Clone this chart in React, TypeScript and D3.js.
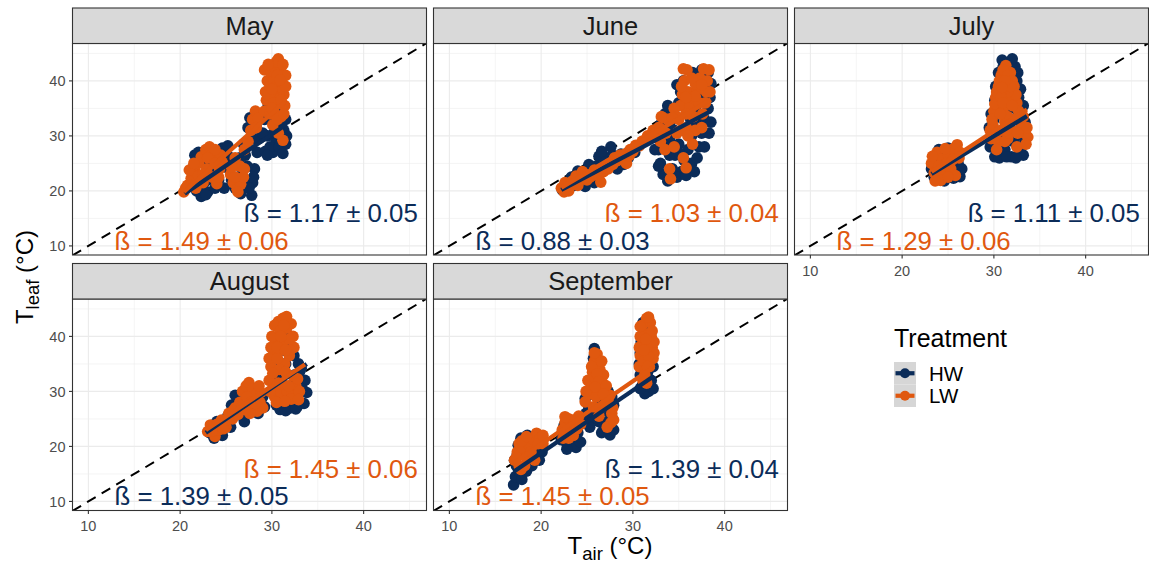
import React from 'react';
import * as d3 from 'd3';

type P = [number, number];

const months = ['May', 'June', 'July', 'August', 'September'];
const treatments = ['HW', 'LW'];
const treatmentColors = ['#0B2C59', '#E0580F'];
const majorTicks = [10, 20, 30, 40];
const minorTicks = [15, 25, 35, 45];
const axisDomainX = [8.27, 46.85];
const axisDomainY = [8.35, 46.8];

const mayHW: P[] = [[21.5,24.5],[21.8,22.5],[21.6,26.5],[22,20.5],[22.3,19],[22.6,21.5],[23,19.8],[23.2,23.5],[23.8,20.5],[24.2,22],[24.5,24.5],[24.6,27.8],[25.1,26.5],[25.3,24],[25.6,22],[25.2,28.2],[26,20.5],[26.3,22.5],[26.6,19.5],[26.8,24],[27.1,26.5],[27.3,29],[27.4,31.5],[27.6,33.3],[27.8,19.2],[27.9,21.5],[28.1,24],[28.4,27],[28.6,29.5],[29.3,27.2],[29.5,30],[29.8,33],[30.1,27],[30.4,29.5],[30.7,32],[31,34.5],[31.3,31],[31.5,28.5],[30.5,35.8],[29.6,35.5],
  [22,27],[22.8,25.5],[23.5,27.5],[24,25.8],[23,22],[24.8,20.5],[25.5,26],[21.8,20],[22.8,19.3],[26.5,26],[27,22],[27.3,24.5],[26.9,28.5],[28,29.5],[28.3,31.5],[28,22.5],[27.5,20.5],[29,30.5],[29.2,33],[29.8,28],[30.2,30.5],[30.8,28],[31.5,33],[31.2,26.8],[29.5,26.5],[30.5,33.5],[31.6,30]];
const mayLW: P[] = [[20.4,19.8],[20.8,21],[21.2,22.3],[21.6,23.5],[22,25],[22.3,26.2],[22.8,27.5],[23.2,28],[23.4,26.5],[22.9,24],[23.5,22.5],[24,21.3],[22.5,21.5],[21.7,20.5],[24.3,24],[24.4,26.5],[23.8,27.5],[25.5,23],[25.8,21.5],[26.2,20.3],[26.6,21.2],[26.9,22.5],[26.5,24.5],[26,26],[27,27.5],[27.4,29],[27.7,31],[27.9,33],[28.2,34.5],[28.5,33.2],[28.3,31.5],[29.2,34.5],[29.4,36.5],[29.3,38],[29.5,40],[29.2,42],[29.9,41.5],[30.3,42.5],[30.7,44],[30.8,41.5],[31.1,39.5],[31.3,37.5],[31.4,35.5],[31,33.5],[30.6,36],[30.2,38],[29.8,34],[30.1,32],[31.2,29.2],[30.7,30.5],
  [21,23.8],[21.5,25],[22,22.8],[22.5,23],[23,26],[23.8,25],[24.2,22.5],[24.6,25.2],[21.2,21],[20.6,20.5],[26,22.5],[25.6,24.3],[27,24],[26.3,19.8],[29.6,37.5],[29.8,39],[30.2,40],[30.5,39],[30.8,38],[30.4,37],[30.9,36.8],[31,42.5],[30.5,43.5],[29.6,43],[31.5,41],[31.5,39],[30.2,34.5],[30.6,33],[31.3,34],
  [30.2,36],[30,35],[31,36.5],[30.6,41],[30,38.5],[30.9,40.2],[31.2,43]];

const juneHW: P[] = [[22.3,20.2],[22.8,21.2],[23.3,22.5],[23.6,21],[24.1,22.8],[24.5,21.7],[25,22.2],[25.5,23.5],[26,24.5],[26.3,26.3],[26.9,24.5],[27.6,28],[27.2,26],[28,25.5],[28.7,26.7],[28.3,24],[29,24.8],[25.8,21.5],[24.8,20.8],[32.5,30],[32.8,27.5],[33,25],[33.3,23],[33.8,21.8],[34.3,24],[34.6,26.5],[35,28.5],[35.3,23.5],[35.6,25.5],[36,27.5],[36.4,30],[36.8,32.5],[37.2,28],[37.5,30.5],[37.8,33],[38.2,35],[38.4,37],[37.5,42],[37,40],[35.5,40],[35.2,38],[36,36],[34,32],[35.5,31],
  [23,20.6],[23.8,21.8],[24.6,22.5],[25.4,22.4],[26.2,23.5],[27,25.3],[27.8,26.5],[28.5,25.5],[29.5,26],[30.2,27],[24,23.6],[25.2,24.8],[26.6,27.2],[33,32],[33.5,34],[34,29.5],[34.5,31],[34,26.5],[34.8,22.5],[35.8,22.8],[36.4,25],[37,26],[37.8,28],[38.3,30.5],[38.5,32.5],[36.8,35],[37.5,37.5],[38.5,39.5],[38.2,41.5],[36.5,41.5],[34.8,39.3],[35,36],[33.8,35.5],[32.4,27.5],[32.8,24.5],
  [36.3,33],[37.2,33.2],[34,28],[36.7,23.5],[35.1,26.8]];
const juneLW: P[] = [[22.2,20.5],[22.6,21.5],[23,20],[23.4,21.8],[23.8,22.7],[24.3,22],[24.8,23],[25.3,22.5],[25.8,23.8],[26.3,22.8],[26.5,21.6],[27,24.2],[27.5,25],[28,26],[28.6,26.5],[29.3,25],[29.7,27.5],[30.3,28.3],[31,29],[31.6,30],[32.2,31],[32.8,31.5],[33.3,33.3],[33.6,30.5],[33,29],[33.5,27.5],[34,24],[34.1,22.2],[34.5,28],[35,33],[35.2,35.5],[35.4,37.5],[35.5,42.2],[35.6,40],[36,38],[36.2,35.5],[36.6,33.5],[37,38.5],[37.3,40.5],[37.7,42.2],[38.1,40],[38.4,38],[37.9,36],[35.8,31.5],[34.8,30.5],[36.5,28.5],[35.5,26],
  [22.5,19.8],[23.2,21],[24,21],[24.5,23.5],[25,22],[25.6,22.8],[26,23],[26.8,23.5],[27.3,24],[27.8,24.8],[28.3,25.5],[29,26.5],[29.6,26.4],[30,27.2],[30.7,28.2],[31.3,29.2],[32,30],[32.5,30.5],[33,31.3],[35.8,24.2],[34.5,35],[34.8,33.5],[35.2,31],[35.8,34],[36.3,37],[36.8,39.5],[37.2,36],[37.6,34],[38,38],[38.3,42],[36.4,40.5],[35.9,42],[35.3,39],[33.8,33],[33.1,33.5],
  [36.8,31],[37.5,31.5],[36,30],[34.3,33.3],[36.8,37.2],[37.5,39.3],[35.8,37]];

const julyHW: P[] = [[23.2,24],[23.5,22.5],[23.7,26],[24,27.5],[24.1,22.2],[24.5,24.5],[24.8,23],[25.2,25.5],[25.6,22.3],[26,23.5],[26.3,22.6],[25.4,27.3],[29.6,28],[29.8,30.5],[30,33],[30.1,26.2],[30.4,35],[30.6,37.5],[30.8,40.5],[31,42.5],[31.4,43.2],[31.9,43.3],[32.3,42.6],[32.5,40],[32.7,37],[32.9,34],[33.1,31],[33.3,28.5],[32.8,27],[31.9,26.2],[31.2,27.5],[31,30],[31.6,32],[32.1,29],[31.5,35],
  [23.4,25.2],[24.3,26.2],[25,27.8],[25.5,24.8],[26.1,25],[26.5,24],[24.6,21.8],[23.8,23.4],[25.8,26.3],[29.5,31.5],[29.7,34],[30.1,36.5],[30.2,39],[30.5,41.5],[30.9,43.8],[32,44],[32.6,41.5],[32.9,38.5],[33.2,35.5],[33.4,32.5],[33.5,30],[33.2,26.5],[30.6,26],[30.9,28.5],[31.4,26.2],[32.4,26],[32.5,30],[32.3,35]];
const julyLW: P[] = [[23.2,25],[23.5,23.3],[23.8,27],[24.3,25.8],[24.6,23.2],[25,26.5],[25.3,24],[25.6,27.7],[26,28.4],[26.2,26],[25.8,22.8],[24.2,21.9],[29.7,29.5],[29.9,32],[30,34.5],[30.2,37],[30.5,39],[30.8,41],[31.3,42.8],[31.8,41.5],[32.2,39],[32.5,36],[32.9,32.5],[33.4,30.5],[33.7,29.8],[33.2,33.5],[32.2,33],[31.2,32.5],[30.5,29],[31.5,29.5],[32.5,28],[30.3,27.5],[31.7,37],
  [23.3,26.3],[24,24.5],[24.9,25],[25.5,25.7],[26.3,27],[24.7,27.7],[23.6,21.8],[25,22.5],[29.6,31],[29.8,33],[30.1,35.8],[30.3,38],[30.6,40],[31,42],[31.5,41],[32,40],[32.4,37.5],[32.7,34.5],[33,31.5],[33.5,28.5],[33.6,31.5],[31,34.5],[31.5,38],[30.8,37],[31.2,29],[32,31],[30.8,31],
  [31,36],[31.5,33.5],[32,35.5],[31.8,39],[31.2,40],[30.7,34],[31.7,30.5],[32.6,30.5],[31.3,31],[30.9,38.8],[32.4,33]];

const augHW: P[] = [[23.2,22.5],[23.7,21.5],[24.2,22.5],[24.7,24],[25.2,25.5],[25.6,27.5],[26,29.3],[26.3,26.5],[26.8,25.5],[27.3,26],[27.8,27.5],[28.2,26.9],[28.6,28],[29,29],[30.3,30],[30.5,27.5],[30.9,26.7],[31.3,27.3],[31.7,29],[32.1,31],[32.5,33],[32.9,35],[33.2,34.2],[33.6,32],[33.8,29.8],[33.5,27.8],[32.8,27.3],[32,27],[31.5,35],[31.8,38],[32,40],[31.2,33],
  [24,24.5],[24.6,22],[25.5,23.5],[26.5,28],[27,24.5],[27.6,29],[28.5,26],[29.2,27.2],[30.6,32],[31,35],[31.3,37.5],[31.6,40.5],[32.4,36.5],[33.3,30.5],[32.5,28.8],[33,33.5],[30.7,29],[31.5,26.5],[32.6,26.8]];
const augLW: P[] = [[23,22.7],[23.3,23.9],[23.8,21.8],[24.2,23],[24.5,24.8],[25,23.5],[25.3,26],[25.7,25],[26,27],[26.5,28],[26.8,30],[27.2,31],[27.5,31.6],[27.9,30.5],[28.3,29.5],[28.7,28],[29,27],[28.4,26.4],[27.6,26],[29.7,32],[29.9,34.5],[30.1,36.5],[30.3,38.5],[30.6,40],[30.7,42.7],[31.2,43.3],[31.6,43.6],[32.1,42.3],[32.3,40],[32.4,38],[31.9,36.5],[31.4,35],[30.8,34],[30.5,31],[30.3,29],[31,29.8],[31.7,29.9],[32.2,29.8],[32.6,31],[32.1,28.6],[33,30],
  [23.5,22.8],[24,24],[24.7,23.2],[25.1,24.8],[25.8,26.5],[26.3,25.8],[26.8,27.5],[27.3,29],[27.1,26.7],[27.7,28],[28.2,27.8],[28.8,29.8],[28.6,31],[29.9,38],[29.7,36],[30,40],[30.3,42],[30.9,41],[31.2,39],[31.6,41.5],[31.9,39.5],[32,37.5],[31,37.5],[30.6,36],[31.5,33.5],[30.1,33.3],[31.2,31.3],[32.3,32.8],[29.8,30],[30.5,28],[31.4,28.2],[32.9,28.5],
  [31,40],[30.6,38],[31.5,37.5],[31.3,42],[30.7,31.5],[31.8,31],[32.8,32.3]];

const sepHW: P[] = [[17,13],[17.2,14.5],[17.3,16.5],[17.4,18.5],[17.5,20.2],[17.8,21.5],[18.2,19.5],[18.6,17.5],[19,16.5],[19.3,18.5],[19.7,20],[18.9,21.5],[17.6,15.5],[22.4,22],[22.7,20.8],[23.2,20.5],[23.6,21.5],[24,22.5],[22.5,23.8],[24.5,24.2],[23.8,19.8],[24.8,28.7],[25.2,27],[25.5,25],[25.8,37.8],[26,26],[26.3,24.5],[26.8,23.9],[27.2,24.5],[27.5,22.1],[27.8,25],[27.9,27.5],[27.7,29],[26.5,30.5],[26,33],[30.7,35],[30.8,33],[31,31],[31.3,29.6],[31.7,30],[32,32],[32.2,34.5],[31.9,37],[31.3,41.2],[31.6,41],[30.9,39],[31.5,36],
  [17.1,17.5],[17.9,14],[18.4,15.5],[18.5,22],[19.5,21.8],[20.1,19],[19.8,17.5],[22.2,21.2],[23,22.8],[24.3,20.8],[22.8,19.5],[24.9,26],[25.3,23.5],[25.6,29.5],[25.7,36],[26.2,35.5],[26.5,27.5],[27,26.5],[27.9,23],[27.3,30],[26.6,22.5],[30.8,37],[31.1,35.5],[32.1,36.5],[32.2,30.5],[30.8,30.5],[31.6,33.5],[31.9,39],[31.1,42.5]];
const sepLW: P[] = [[17.1,17.5],[17.4,19],[17.6,20.5],[18,19.3],[18.4,18],[18.7,20.3],[19.1,21.3],[19.5,22.4],[19.9,21.5],[20.2,20.5],[18.2,16.5],[17.8,15.8],[22.3,23],[22.6,24.3],[23,25],[23.2,23],[23.5,22],[23.7,24],[24.1,25.5],[23,21.5],[24.8,28.1],[25.2,29.5],[25.4,31.5],[25.6,33.5],[25.8,35.5],[26.1,36.8],[26.4,34],[26.7,31.5],[27,29],[26.5,27],[27.4,27.8],[27.7,26],[25.7,27.2],[26.3,25.5],[27.6,24.3],[30.7,34.5],[30.8,36.5],[31,38.5],[31.2,40.5],[31.5,43.3],[31.9,42.5],[32,40],[32.1,38],[32.2,36],[31.8,34.5],[31.3,33],[31.5,31.5],
  [17.3,18],[17.9,21],[18.4,21.8],[18.9,19],[19.3,17.5],[19.7,20.5],[20.2,22],[17.6,16.5],[22.4,21.5],[22.8,22.3],[23.5,24.8],[23.9,23.2],[24.3,24],[22.6,25.4],[24.9,30],[25.1,32],[25.5,34.5],[25.9,32.5],[26.2,30],[26.8,33],[26.6,35.5],[25.8,37],[26,29],[26.9,27.5],[27.5,29.3],[27.8,27],[27.2,23.5],[27.9,24.8],[30.7,38],[30.8,40],[31,42],[31.7,43.5],[32.1,41],[32.3,39],[32.3,37],[31.2,35.5],[31.7,36.5],[31.5,38],[31.1,32],
  [31.4,39.5],[31.6,34.5],[31.2,37.5],[30.8,41.8],[26.1,33.2],[26.3,31.8],[25.9,30.8],[27.1,31],[26.8,29.5]];

const pointsHW = [mayHW, juneHW, julyHW, augHW, sepHW];
const pointsLW = [mayLW, juneLW, julyLW, augLW, sepLW];

// fitted line ends: [x0, y0, x1, y1]
const fitHW = [[20.5,19.5,31.6,32.1],[22.2,20.2,38.5,34.5],[23.2,23.1,33.6,33.6],[22.8,22.5,33.8,35],[17,15.4,32.3,32.8]];
const fitLW = [[20.4,19.8,31.4,36.2],[22.2,20.6,38.5,36.6],[23.2,23.5,33.6,34.8],[22.8,23,33.6,34.9],[17,17,32.3,34.5]];

const betaHW = ['1.17 ± 0.05', '0.88 ± 0.03', '1.11 ± 0.05', '1.39 ± 0.05', '1.39 ± 0.04'];
const betaLW = ['1.49 ± 0.06', '1.03 ± 0.04', '1.29 ± 0.06', '1.45 ± 0.06', '1.45 ± 0.05'];
const upperLabelTreatment = ['HW', 'LW', 'HW', 'LW', 'HW'];

const FONT = '"Liberation Sans", Arial, sans-serif';
const colLeft = [72.5, 433.5, 794.5];
const panelW = 354;
const stripTop = [8, 263.5];
const stripH = 35.5;
const panelTop = [43.5, 299];
const panelH = 211.5;
const R = 5.8;

function Panel({ i }: { i: number }) {
  const col = i % 3;
  const row = Math.floor(i / 3);
  const left = colLeft[col];
  const top = panelTop[row];
  const x = d3.scaleLinear().domain(axisDomainX).range([left, left + panelW]);
  const y = d3.scaleLinear().domain(axisDomainY).range([top + panelH, top]);
  const clipId = `clip${i}`;
  const showX = row === 1 || col === 2;
  const showY = col === 0;
  const lineGen = d3.line<P>().x(d => x(d[0])).y(d => y(d[1]));
  const upper = upperLabelTreatment[i];
  const upperText = upper === 'HW' ? betaHW[i] : betaLW[i];
  const lowerText = upper === 'HW' ? betaLW[i] : betaHW[i];
  const upperColor = upper === 'HW' ? treatmentColors[0] : treatmentColors[1];
  const lowerColor = upper === 'HW' ? treatmentColors[1] : treatmentColors[0];
  return (
    <g>
      <defs>
        <clipPath id={clipId}>
          <rect x={left} y={top} width={panelW} height={panelH} />
        </clipPath>
      </defs>
      <rect x={left} y={top} width={panelW} height={panelH} fill="#FFFFFF" />
      {minorTicks.map(t => (
        <g key={'mi' + t}>
          <line x1={x(t)} x2={x(t)} y1={top} y2={top + panelH} stroke="#EBEBEB" strokeWidth={0.55} />
          <line x1={left} x2={left + panelW} y1={y(t)} y2={y(t)} stroke="#EBEBEB" strokeWidth={0.55} />
        </g>
      ))}
      {majorTicks.map(t => (
        <g key={'ma' + t}>
          <line x1={x(t)} x2={x(t)} y1={top} y2={top + panelH} stroke="#EBEBEB" strokeWidth={1.1} />
          <line x1={left} x2={left + panelW} y1={y(t)} y2={y(t)} stroke="#EBEBEB" strokeWidth={1.1} />
        </g>
      ))}
      <g clipPath={`url(#${clipId})`}>
        <line x1={x(axisDomainX[0])} y1={y(axisDomainX[0])} x2={x(axisDomainX[1])} y2={y(axisDomainX[1])}
          stroke="#000" strokeWidth={2} strokeDasharray="10,7" />
        {pointsHW[i].map((p, k) => (
          <circle key={'h' + k} cx={x(p[0])} cy={y(p[1])} r={R} fill={treatmentColors[0]} />
        ))}
        {pointsLW[i].map((p, k) => (
          <circle key={'l' + k} cx={x(p[0])} cy={y(p[1])} r={R} fill={treatmentColors[1]} />
        ))}
        <path d={lineGen([[fitHW[i][0], fitHW[i][1]], [fitHW[i][2], fitHW[i][3]]]) || ''} stroke={treatmentColors[0]} strokeWidth={4.2} fill="none" />
        <path d={lineGen([[fitLW[i][0], fitLW[i][1]], [fitLW[i][2], fitLW[i][3]]]) || ''} stroke={treatmentColors[1]} strokeWidth={4.2} fill="none" />
      </g>
      <text x={x(45.9)} y={y(14.3)} textAnchor="end" fontSize={25.8} fill={upperColor} fontFamily={FONT}>{'ß = ' + upperText}</text>
      <text x={x(12.85)} y={y(9.3)} textAnchor="start" fontSize={25.8} fill={lowerColor} fontFamily={FONT}>{'ß = ' + lowerText}</text>
      <rect x={left} y={top} width={panelW} height={panelH} fill="none" stroke="#333333" strokeWidth={1.1} />
      <rect x={left} y={stripTop[row]} width={panelW} height={stripH} fill="#D9D9D9" stroke="#333333" strokeWidth={1.1} />
      <text x={left + panelW / 2} y={stripTop[row] + stripH / 2 + 8.8} textAnchor="middle" fontSize={25.5} fill="#1A1A1A" fontFamily={FONT}>{months[i]}</text>
      {showX && majorTicks.map(t => (
        <g key={'xt' + t}>
          <line x1={x(t)} x2={x(t)} y1={top + panelH} y2={top + panelH + 3.5} stroke="#333333" strokeWidth={1.1} />
          <text x={x(t)} y={top + panelH + 20.5} textAnchor="middle" fontSize={14.5} fill="#4D4D4D" fontFamily={FONT}>{t}</text>
        </g>
      ))}
      {showY && majorTicks.map(t => (
        <g key={'yt' + t}>
          <line x1={left - 3.5} x2={left} y1={y(t)} y2={y(t)} stroke="#333333" strokeWidth={1.1} />
          <text x={left - 7} y={y(t) + 5.2} textAnchor="end" fontSize={14.5} fill="#4D4D4D" fontFamily={FONT}>{t}</text>
        </g>
      ))}
    </g>
  );
}

export default function App() {
  return (
    <svg width={1149} height={571} style={{ position: 'absolute', left: 0, top: 0, display: 'block', background: '#fff' }}>
      <rect x={0} y={0} width={1149} height={571} fill="#FFFFFF" />
      {months.map((m, i) => <Panel key={m} i={i} />)}
      <text x={610} y={554} textAnchor="middle" fontSize={24} fill="#000" fontFamily={FONT}>
        T<tspan dy={6} fontSize={18.5}>air</tspan><tspan dy={-6}> (°C)</tspan>
      </text>
      <text transform="translate(33,277) rotate(-90)" textAnchor="middle" fontSize={24} fill="#000" fontFamily={FONT}>
        T<tspan dy={6} fontSize={18.5}>leaf</tspan><tspan dy={-6}> (°C)</tspan>
      </text>
      <g>
        <text x={894} y={347} fontSize={25} fill="#000" fontFamily={FONT}>Treatment</text>
        {treatments.map((t, k) => {
          const ky = 362 + k * 22.5;
          return (
            <g key={t}>
              <rect x={894} y={ky} width={22} height={22.5} fill="#D6D6D6" />
              <line x1={895.5} x2={914.5} y1={ky + 11.25} y2={ky + 11.25} stroke={treatmentColors[k]} strokeWidth={4.2} />
              <circle cx={905} cy={ky + 11.25} r={5} fill={treatmentColors[k]} />
              <text x={929} y={ky + 18.5} fontSize={20.5} fill="#000" fontFamily={FONT}>{t}</text>
            </g>
          );
        })}
      </g>
    </svg>
  );
}
